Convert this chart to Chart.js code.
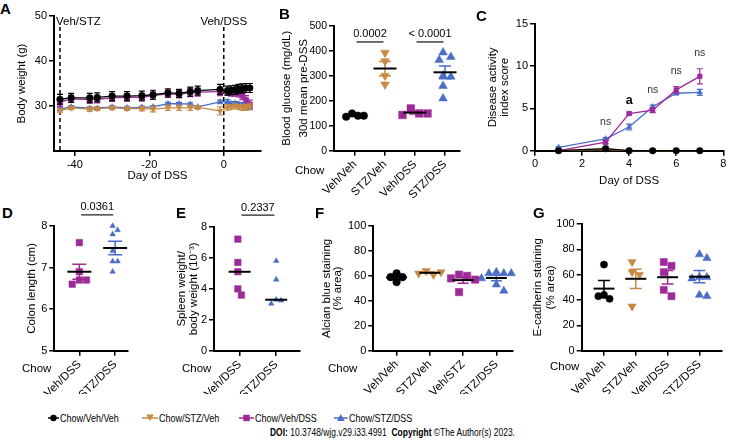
<!DOCTYPE html>
<html>
<head>
<meta charset="utf-8">
<script src="https://cdn.jsdelivr.net/npm/chart.js@4.4.1/dist/chart.umd.min.js"></script>
<style>
  body { margin: 0; background: #fff; }
  #fig { position: relative; width: 734px; height: 441px; overflow: hidden; font-family: 'Liberation Sans', Arial, sans-serif; color: #000; }
  #fig canvas { position: absolute; }
  .tag { position: absolute; font-weight: bold; font-size: 15px; line-height: 15px; }
  .chow { position: absolute; font-size: 11.5px; line-height: 13px; }
  .leg { position: absolute; top: 411px; height: 14px; display: flex; align-items: center; white-space: nowrap;
         font-family: 'Liberation Sans', Arial, sans-serif; font-size: 11.5px; }
  .leg span { display: inline-block; transform: scaleX(0.78); transform-origin: left center; }
  #doi { position: absolute; left: 270px; top: 426px; white-space: nowrap; transform: scaleX(0.77); transform-origin: left center;
         font-family: 'Liberation Sans', Arial, sans-serif; font-size: 11px; line-height: 13px; }
</style>
</head>
<body>
<div id="fig">
  <canvas id="cA"></canvas><canvas id="cB"></canvas><canvas id="cC"></canvas>
  <canvas id="cD"></canvas><canvas id="cE"></canvas><canvas id="cF"></canvas><canvas id="cG"></canvas>
  <div class="tag" style="left:0px;top:1px">A</div>
  <div class="tag" style="left:279px;top:6px">B</div>
  <div class="tag" style="left:476px;top:8px">C</div>
  <div class="tag" style="left:2px;top:205px">D</div>
  <div class="tag" style="left:176px;top:205px">E</div>
  <div class="tag" style="left:315px;top:205px">F</div>
  <div class="tag" style="left:533px;top:205px">G</div>
  <div class="chow" style="left:295px;top:164px">Chow</div>
  <div class="chow" style="left:22px;top:362px">Chow</div>
  <div class="chow" style="left:182px;top:362px">Chow</div>
  <div class="chow" style="left:328px;top:362px">Chow</div>
  <div class="chow" style="left:550px;top:360px">Chow</div>
  <div id="legend"></div>
  <div id="doi"><b>DOI:</b> 10.3748/wjg.v29.i33.4991&nbsp;&nbsp;<b>Copyright</b> ©The Author(s) 2023.</div>
</div>
<script>
// groups (legend)
const groups = ['Chow/Veh/Veh', 'Chow/STZ/Veh', 'Chow/Veh/DSS', 'Chow/STZ/DSS'];

// A - body weight
const aDays = [-44, -41, -36, -34, -30, -26, -22, -19, -15, -12, -9, -7, -1, 1, 2, 3, 4, 5, 6, 7];
const aVehVeh = [31.5, 31.8, 31.8, 31.9, 32.2, 32.2, 32.3, 32.5, 32.9, 32.8, 33.2, 33.4, 33.7, 33.4, 33.5, 33.6, 33.8, 33.9, 34.0, 34.0];
const aVehVehSem = [1.1, 1.0, 1.0, 1.0, 1.0, 1.0, 1.0, 1.0, 0.9, 0.9, 1.0, 1.0, 1.1, 1.0, 1.0, 1.0, 1.0, 1.0, 1.0, 1.0];
const aStzVeh = [29.0, 29.6, 29.3, 29.4, 29.6, 29.4, 29.4, 29.3, 29.6, 29.6, 29.6, 29.7, 28.9, 29.7, 29.8, 30.0, 29.8, 29.6, 29.7, 29.9];
const aStzVehSem = [0.5, 0.4, 0.5, 0.4, 0.4, 0.4, 0.5, 0.6, 0.6, 0.6, 0.6, 0.4, 0.9, 0.6, 0.5, 0.5, 0.5, 0.6, 0.6, 0.6];
const aVehDss = [30.8, 31.6, 31.4, 31.5, 31.8, 31.9, 31.9, 32.3, 32.7, 32.6, 33.0, 33.1, 33.2, 33.2, 33.0, 33.0, 32.8, 32.3, 31.3, 30.3];
const aVehDssSem = [0.9, 0.8, 0.8, 0.8, 0.8, 0.8, 0.8, 0.8, 0.8, 0.8, 0.9, 0.9, 0.9, 0.8, 0.8, 0.8, 0.8, 0.9, 1.0, 1.0];
const aStzDss = [29.3, 29.8, 29.5, 29.5, 29.8, 29.6, 29.7, 29.8, 30.5, 30.5, 30.4, 29.8, 30.9, 31.0, 30.5, 30.6, 30.4, 30.2, 29.9, 29.8];
const aStzDssSem = [0.4, 0.3, 0.3, 0.3, 0.3, 0.3, 0.3, 0.3, 0.3, 0.3, 0.3, 0.3, 0.4, 0.4, 0.4, 0.4, 0.4, 0.5, 0.6, 0.6];
const aXTicks = [-40, -20, 0];
const aYTicks = [30, 40, 50];
const aEvents = [-44, 0];
const aEventLabels = ['Veh/STZ', 'Veh/DSS'];

// B - blood glucose
const bCats = ['Veh/Veh', 'STZ/Veh', 'Veh/DSS', 'STZ/DSS'];
const bVehVeh = [149, 140, 136, 140];
const bStzVeh = [392, 358, 300, 265];
const bVehDss = [169, 149, 143, 149];
const bStzDss = [393, 375, 363, 300, 296, 259, 209];
const bSigPairs = [[0, 1], [2, 3]];
const bSigText = ['0.0002', '< 0.0001'];

// C - disease activity index
const cDays = [1, 3, 4, 5, 6, 7];
const cVehVeh = [0, 0.25, 0, 0, 0, 0];
const cStzVeh = [0, 0.2, 0, 0, 0, 0];
const cVehDss = [0, 1.0, 4.4, 4.8, 7.2, 8.8];
const cVehDssSem = [0, 0.2, 0.15, 0.3, 0.4, 0.9];
const cStzDss = [0.4, 1.4, 2.8, 5.2, 6.8, 6.9];
const cStzDssSem = [0.1, 0.15, 0.35, 0.2, 0.2, 0.35];
const cSigDays = [3, 4, 5, 6, 7];
const cSigText = ['ns', 'a', 'ns', 'ns', 'ns'];

// D - colon length
const dCats = ['Veh/DSS', 'STZ/DSS'];
const dVehDss = [7.6, 6.9, 6.7, 6.7, 6.6];
const dStzDss = [8.0, 7.9, 7.8, 7.4, 7.15, 7.15, 6.9];
const dSigText = ['0.0361'];

// E - spleen weight
const eCats = ['Veh/DSS', 'STZ/DSS'];
const eVehDss = [7.2, 5.7, 5.1, 4.0, 3.6];
const eStzDss = [5.8, 4.6, 3.3, 3.25, 3.05];
const eSigText = ['0.2337'];

// F - alcian blue
const fCats = ['Veh/Veh', 'STZ/Veh', 'Veh/STZ', 'STZ/DSS'];
const fVehVeh = [62, 59, 55, 59];
const fStzVeh = [64, 61, 62, 63];
const fVehStz = [61, 60, 58, 57, 47];
const fStzDss = [63, 62, 62, 62, 58, 53, 48];

// G - E-cadherin
const gCats = ['Veh/Veh', 'STZ/Veh', 'Veh/DSS', 'STZ/DSS'];
const gVehVeh = [68, 44, 41, 43];
const gStzVeh = [70, 62, 60, 35];
const gVehDss = [70, 67, 62, 48, 43];
const gStzDss = [76, 73, 58, 58, 57, 44, 43];

// look
const colors = ['#000000', '#c68a45', '#9c2a98', '#4a6dc6'];
const shapes = ['circle', 'triangle', 'rect', 'triangle'];
const turns = [0, 180, 0, 0];
const FAM = "'Liberation Sans', Arial, sans-serif";
const tickFont = { family: FAM, size: 11 };

// canvas boxes (cx,cy,cw,ch) and wanted plot areas (l,t,r,b)
const G = {
  A: { cx: 15, cy: 6, cw: 254, ch: 177, l: 54, t: 16, r: 261, b: 151 },
  B: { cx: 278, cy: 8, cw: 190, ch: 192, l: 334, t: 25.7, r: 460, b: 150.7 },
  C: { cx: 487, cy: 14, cw: 244, ch: 174, l: 535, t: 24, r: 723.3, b: 150.7 },
  D: { cx: 25, cy: 198, cw: 111, ch: 196, l: 54.3, t: 226, r: 128, b: 350.7 },
  E: { cx: 176, cy: 198, cw: 132, ch: 196, l: 214, t: 226.7, r: 300, b: 351 },
  F: { cx: 321, cy: 212, cw: 200, ch: 182, l: 373.3, t: 226, r: 513, b: 350.7 },
  G: { cx: 532, cy: 210, cw: 198, ch: 184, l: 581.7, t: 224, r: 721.7, b: 350.7 }
};

function mean(a) { return a.reduce((s, v) => s + v, 0) / a.length; }
function sem(a) { const m = mean(a); return Math.sqrt(a.reduce((s, v) => s + (v - m) ** 2, 0) / (a.length - 1) / a.length); }
function median(a) { const s = [...a].sort((p, q) => p - q), n = s.length; return n % 2 ? s[(n - 1) / 2] : (s[n / 2 - 1] + s[n / 2]) / 2; }

function marker(k, r) {
  return { borderColor: colors[k], backgroundColor: colors[k], pointBackgroundColor: colors[k], pointBorderColor: colors[k],
           pointStyle: shapes[k], pointRotation: turns[k], pointRadius: r, pointBorderWidth: 0.5, clip: false };
}

// simple beeswarm so points with close values sit side by side
function swarm(vals, pxY, pxX, gap) {
  const placed = [];
  const offs = vals.map(v => {
    const yp = v * pxY;
    for (let k = 0; k < 60; k++) {
      const off = (k % 2 ? 1 : -1) * Math.ceil(k / 2) * gap * 0.5;
      if (placed.every(p => Math.hypot(p.x - off, p.y - yp) >= gap)) { placed.push({ x: off, y: yp }); return off; }
    }
    return 0;
  });
  const mid = (Math.max(...offs) + Math.min(...offs)) / 2;
  return offs.map(o => (o - mid) / pxX);
}

function axis(min, max, ticks, title, extra) {
  return Object.assign({
    type: 'linear', min, max,
    afterBuildTicks: s => { s.ticks = ticks.map(v => ({ value: v })); },
    grid: { drawOnChartArea: false, drawTicks: true, tickLength: 5, color: '#000', lineWidth: 1.5 },
    border: { color: '#000', width: 2 },
    ticks: { color: '#000', font: tickFont, padding: 2, autoSkip: false, maxRotation: 0 },
    title: title ? { display: true, text: title.text, color: '#000', padding: 0,
                     font: { family: FAM, size: 11.5, lineHeight: title.lh || 1.2 } } : { display: false }
  }, extra || {});
}

function catAxis(cats, max) {
  const ax = axis(-0.7, max, cats.map((c, i) => i), null);
  ax.ticks = { color: '#000', font: { family: FAM, size: 11.5 }, padding: 2, autoSkip: false,
               minRotation: 45, maxRotation: 45, callback: v => cats[v] };
  return ax;
}

// radii: per style index (circle, down triangle, square, up triangle)
function groupSets(lists, g, x, y, radii) {
  const pxY = (g.b - g.t) / (y.max - y.min), pxX = (g.r - g.l) / (x.max - x.min);
  return lists.map(([vals, k], i) => {
    const r = radii[k];
    const off = swarm(vals, pxY, pxX, r * 1.55);
    return Object.assign({ data: vals.map((v, j) => ({ x: i + off[j], y: v })), vals }, marker(k, r));
  });
}

const errBars = {
  id: 'errBars',
  beforeDatasetDraw(chart, args) {
    const ds = chart.data.datasets[args.index];
    if (!ds.sem) return;
    const { ctx, scales: { x, y } } = chart;
    ctx.save();
    ctx.strokeStyle = ds.borderColor; ctx.lineWidth = 1.2;
    ds.data.forEach((p, i) => {
      const s = ds.sem[i];
      if (!s) return;
      const px = x.getPixelForValue(p.x), y1 = y.getPixelForValue(p.y - s), y2 = y.getPixelForValue(p.y + s);
      ctx.beginPath();
      ctx.moveTo(px, y1); ctx.lineTo(px, y2);
      ctx.moveTo(px - 3, y1); ctx.lineTo(px + 3, y1);
      ctx.moveTo(px - 3, y2); ctx.lineTo(px + 3, y2);
      ctx.stroke();
    });
    ctx.restore();
  }
};

const groupStats = {
  id: 'groupStats',
  afterDatasetsDraw(chart, args, o) {
    if (!o || !o.stat) return;
    const { ctx, scales: { x, y } } = chart;
    ctx.save();
    chart.data.datasets.forEach((ds, i) => {
      const px = x.getPixelForValue(i);
      if (o.stat === 'mean') {
        const m = mean(ds.vals), s = sem(ds.vals);
        const y1 = y.getPixelForValue(m - s), y2 = y.getPixelForValue(m + s);
        ctx.strokeStyle = ds.borderColor; ctx.lineWidth = 1.5;
        ctx.beginPath();
        ctx.moveTo(px, y1); ctx.lineTo(px, y2);
        ctx.moveTo(px - o.cap, y1); ctx.lineTo(px + o.cap, y1);
        ctx.moveTo(px - o.cap, y2); ctx.lineTo(px + o.cap, y2);
        ctx.stroke();
      }
      const c = o.stat === 'mean' ? mean(ds.vals) : median(ds.vals);
      const yc = y.getPixelForValue(c);
      ctx.strokeStyle = '#000'; ctx.lineWidth = 2;
      ctx.beginPath(); ctx.moveTo(px - o.half, yc); ctx.lineTo(px + o.half, yc); ctx.stroke();
    });
    (o.pairs || []).forEach(([i, j], n) => {
      const yp = y.getPixelForValue(o.level);
      const x1 = x.getPixelForValue(i + 0.05), x2 = x.getPixelForValue(j - 0.05);
      ctx.strokeStyle = '#222'; ctx.lineWidth = 1.3;
      ctx.beginPath(); ctx.moveTo(x1, yp); ctx.lineTo(x2, yp); ctx.stroke();
      ctx.fillStyle = '#000'; ctx.font = '11px ' + FAM; ctx.textAlign = 'center'; ctx.textBaseline = 'bottom';
      ctx.fillText(o.texts[n], (x1 + x2) / 2, yp - 2);
    });
    ctx.restore();
  }
};

const marks = {
  id: 'marks',
  beforeDatasetsDraw(chart, args, o) {
    if (!o || !o.lines) return;
    const { ctx, chartArea, scales: { x } } = chart;
    ctx.save();
    o.lines.forEach((v, i) => {
      const px = x.getPixelForValue(v);
      ctx.strokeStyle = '#000'; ctx.lineWidth = 1.5; ctx.setLineDash([4, 3]);
      ctx.beginPath(); ctx.moveTo(px, chartArea.top + 11); ctx.lineTo(px, chartArea.bottom); ctx.stroke();
      ctx.setLineDash([]);
      ctx.fillStyle = '#000'; ctx.font = '11.5px ' + FAM; ctx.textBaseline = 'middle';
      ctx.textAlign = o.align[i];
      ctx.fillText(o.labels[i], o.align[i] === 'left' ? px - 4 : px, chartArea.top + 6);
    });
    ctx.restore();
  },
  afterDatasetsDraw(chart, args, o) {
    if (!o || !o.sig) return;
    const { ctx, scales: { y } } = chart;
    ctx.save();
    o.sig.forEach((d, i) => {
      let top = -Infinity;
      chart.data.datasets.forEach(ds => ds.data.forEach((p, j) => {
        if (p.x === d) top = Math.max(top, p.y + (ds.sem ? ds.sem[j] : 0));
      }));
      const bold = o.texts[i] === 'a';
      ctx.font = bold ? 'bold 12.5px ' + FAM : '10.5px ' + FAM;
      ctx.fillStyle = bold ? '#000' : '#333';
      ctx.textAlign = 'center'; ctx.textBaseline = 'bottom';
      ctx.fillText(o.texts[i], chart.scales.x.getPixelForValue(d), y.getPixelForValue(top) - (bold ? 5 : 10));
    });
    ctx.restore();
  }
};

function build(id, g, datasets, x, y, extra) {
  const c = document.getElementById(id);
  c.width = g.cw; c.height = g.ch;
  c.style.left = g.cx + 'px'; c.style.top = g.cy + 'px';
  x.afterFit = s => { s.height = g.cy + g.ch - g.b; };
  y.afterFit = s => { s.width = g.l - g.cx; };
  return new Chart(c, {
    type: 'scatter',
    data: { datasets },
    options: {
      responsive: false, animation: false, events: [],
      layout: { padding: { top: g.t - g.cy, right: g.cx + g.cw - g.r, left: 0, bottom: 0 } },
      scales: { x, y },
      plugins: Object.assign({ legend: { display: false }, tooltip: { enabled: false } }, extra || {})
    },
    plugins: [errBars, groupStats, marks]
  });
}

// A
{
  const series = [[aVehVeh, aVehVehSem], [aStzVeh, aStzVehSem], [aVehDss, aVehDssSem], [aStzDss, aStzDssSem]];
  const sets = series.map(([v, s], k) => Object.assign({
    data: aDays.map((d, i) => ({ x: d, y: v[i] })), sem: s, showLine: true, borderWidth: 1.3
  }, marker(k, k === 2 ? 3.8 : 3.3)));
  build('cA', G.A, sets,
    axis(-45.6, 10, aXTicks, { text: 'Day of DSS' }),
    axis(20, 50, aYTicks, { text: 'Body weight (g)' }),
    { marks: { lines: aEvents, labels: aEventLabels, align: ['left', 'center'] } });
}

// B
{
  const x = catAxis(bCats, 3.5);
  const y = axis(0, 500, [0, 100, 200, 300, 400, 500], { text: ['Blood glucose (mg/dL)', '30d mean pre-DSS'], lh: '17px' });
  y.ticks.font = { family: FAM, size: 10.5 };
  const sets = groupSets([[bVehVeh, 0], [bStzVeh, 1], [bVehDss, 2], [bStzDss, 3]], G.B, x, y, [3.8, 5, 5.4, 5]);
  build('cB', G.B, sets, x, y, { groupStats: { stat: 'mean', half: 11.5, cap: 6, pairs: bSigPairs, texts: bSigText, level: 435 } });
}

// C
{
  const series = [[cVehVeh, null], [cStzVeh, null], [cVehDss, cVehDssSem], [cStzDss, cStzDssSem]];
  const sets = series.map(([v, s], k) => Object.assign({
    data: cDays.map((d, i) => ({ x: d, y: v[i] })), sem: s, showLine: true, borderWidth: 1.3
  }, marker(k, 3.3)));
  sets[1].fill = 'origin';
  sets[1].backgroundColor = 'rgba(120, 88, 30, 0.9)';
  build('cC', G.C, sets,
    axis(0, 8, [0, 2, 4, 6, 8], { text: 'Day of DSS' }),
    axis(0, 15, [0, 5, 10, 15], { text: ['Disease activity', 'index score'], lh: '12px' }),
    { marks: { sig: cSigDays, texts: cSigText } });
}

// D
{
  const x = catAxis(dCats, 1.36), y = axis(5, 8, [5, 6, 7, 8], { text: 'Colon length (cm)' });
  const sets = groupSets([[dVehDss, 2], [dStzDss, 3]], G.D, x, y, [3.8, 3.2, 4.6, 3.2]);
  build('cD', G.D, sets, x, y, { groupStats: { stat: 'mean', half: 12, cap: 7, pairs: [[0, 1]], texts: dSigText, level: 8.27 } });
}

// E
{
  const x = catAxis(eCats, 1.65), y = axis(0, 8, [0, 2, 4, 6, 8], { text: ['Spleen weight/', 'body weight (10⁻³)'], lh: '12px' });
  const sets = groupSets([[eVehDss, 2], [eStzDss, 3]], G.E, x, y, [3.8, 3.2, 4.6, 3.2]);
  build('cE', G.E, sets, x, y, { groupStats: { stat: 'median', half: 11, pairs: [[0, 1]], texts: eSigText, level: 8.75 } });
}

// F
{
  const x = catAxis(fCats, 3.5), y = axis(0, 100, [0, 20, 40, 60, 80, 100], { text: ['Alcian blue staining', '(% area)'], lh: '11.5px' });
  const sets = groupSets([[fVehVeh, 0], [fStzVeh, 1], [fVehStz, 2], [fStzDss, 3]], G.F, x, y, [3.8, 4.8, 5.2, 4.8]);
  build('cF', G.F, sets, x, y, { groupStats: { stat: 'mean', half: 10.5, cap: 5.5 } });
}

// G
{
  const x = catAxis(gCats, 3.7), y = axis(0, 100, [0, 20, 40, 60, 80, 100], { text: ['E-cadherin staining', '(% area)'], lh: '12.4px' });
  const sets = groupSets([[gVehVeh, 0], [gStzVeh, 1], [gVehDss, 2], [gStzDss, 3]], G.G, x, y, [3.6, 4.8, 5, 4.8]);
  build('cG', G.G, sets, x, y, { groupStats: { stat: 'mean', half: 10.5, cap: 6 } });
}

// legend
{
  const lineStart = [48, 141.7, 239, 334];
  const textStart = [63, 161.7, 258, 351.7];
  const shapesSvg = [
    c => `<circle cx="C" cy="6" r="3.2" fill="${c}"/>`,
    c => `<polygon points="C-3.8,2.5 C+3.8,2.5 C,9" fill="${c}"/>`,
    c => `<rect x="C-3.2" y="2.8" width="6.4" height="6.4" fill="${c}"/>`,
    c => `<polygon points="C,2 C+3.8,9 C-3.8,9" fill="${c}"/>`
  ];
  const host = document.getElementById('legend');
  groups.forEach((name, k) => {
    const w = textStart[k] - lineStart[k] - 3;
    const lw = textStart[k] - lineStart[k] - 4;
    const mid = lw / 2;
    const shape = shapesSvg[k](colors[k]).replace(/C([+-][\d.]+)?/g, (m, d) => (mid + (d ? parseFloat(d) : 0)).toFixed(1));
    const el = document.createElement('div');
    el.className = 'leg';
    el.style.left = lineStart[k] + 'px';
    el.innerHTML = `<svg width="${w}" height="12"><line x1="0" y1="6" x2="${lw}" y2="6" stroke="${colors[k]}" stroke-width="1.5"/>${shape}</svg><span>${name}</span>`;
    host.appendChild(el);
  });
}
</script>
</body>
</html>
